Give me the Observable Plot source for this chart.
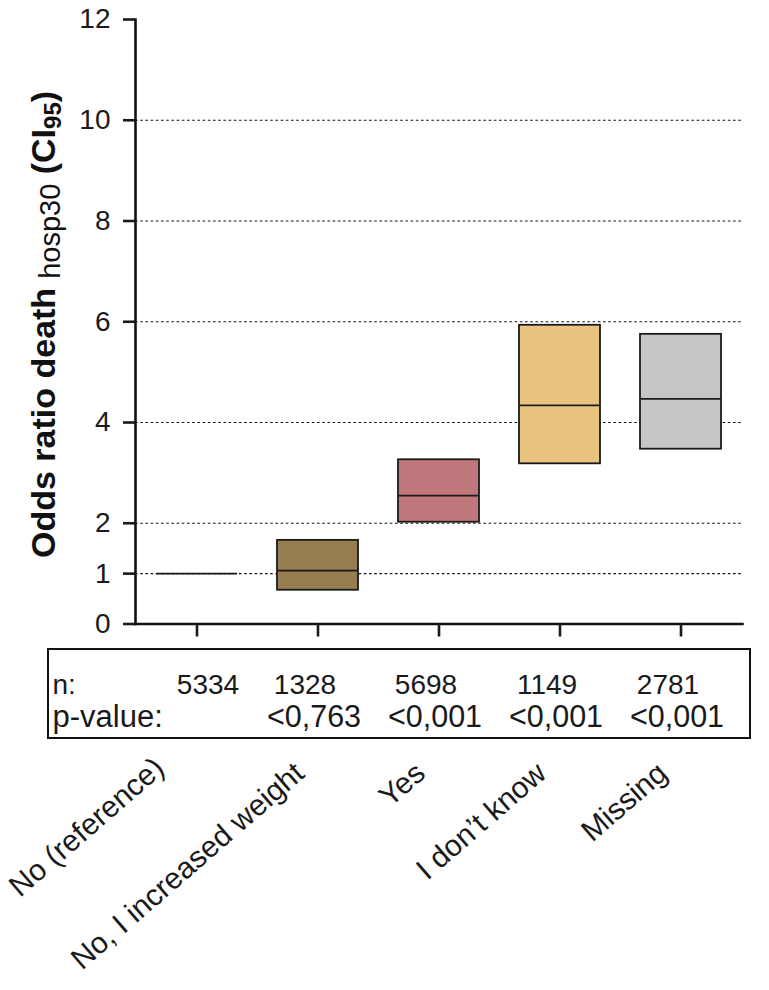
<!DOCTYPE html>
<html>
<head>
<meta charset="utf-8">
<script src="https://cdn.jsdelivr.net/npm/d3@7"></script>
<script src="https://cdn.jsdelivr.net/npm/@observablehq/plot@0.6"></script>
<style>
  html, body { margin: 0; padding: 0; background: #fff; }
  #wrap { position: relative; width: 769px; height: 990px; font-family: "Liberation Sans", Arial, sans-serif; }
  #wrap svg { position: absolute; left: 0; top: 0; }
  #tablebox { position: absolute; left: 47px; top: 648px; width: 700px; height: 87px; border: 2px solid #111; }
</style>
</head>
<body>
<div id="wrap"><div id="tablebox"></div></div>
<script>
// ---- data ----
const categories = ["No (reference)", "No, I increased weight", "Yes", "I don\u2019t know", "Missing"];
const oddsRatio  = [1.00, 1.06, 2.55, 4.34, 4.47];
const ciLower    = [null, 0.67, 2.02, 3.18, 3.47];
const ciUpper    = [null, 1.66, 3.26, 5.93, 5.75];
const colors     = ["#ffffff", "#977d52", "#c0777b", "#e8c480", "#c6c6c8"];
const nValues    = ["5334", "1328", "5698", "1149", "2781"];
const pValues    = ["", "<0,763", "<0,001", "<0,001", "<0,001"];
const yTicks     = [0, 1, 2, 4, 6, 8, 10, 12];
const gridValues = [1, 2, 4, 6, 8, 10];

const rows = categories.map((c, i) => ({
  cat: c, or: oddsRatio[i], lo: ciLower[i], hi: ciUpper[i], color: colors[i], n: nValues[i], p: pValues[i]
}));
const boxes = rows.filter(d => d.lo != null);
const refRow = rows.slice(0, 1);
const otherRows = rows.slice(1);

const FONT = "Liberation Sans, Arial, sans-serif";

const chart = Plot.plot({
  width: 769,
  height: 990,
  marginTop: 19,
  marginBottom: 366.5,
  marginLeft: 135,
  marginRight: 27,
  style: { fontFamily: FONT, color: "#1a1a1a", background: "transparent", overflow: "visible" },
  x: { type: "band", domain: categories, paddingInner: 0.333, paddingOuter: 0.1667, align: 0.5 },
  y: { domain: [0, 12] },
  marks: [
    Plot.ruleY(gridValues, { stroke: "#111", strokeWidth: 1.2, strokeDasharray: "2.6,2.6" }),
    Plot.barY(boxes, { x: "cat", y1: "lo", y2: "hi", fill: "color", stroke: "#1a1a1a", strokeWidth: 1.8 }),
    Plot.tickY(rows, { x: "cat", y: "or", stroke: "#1a1a1a", strokeWidth: 1.8 }),
    Plot.frame({ anchor: "left", stroke: "#111", strokeWidth: 2.6 }),
    Plot.frame({ anchor: "bottom", stroke: "#111", strokeWidth: 2.6 }),
    Plot.axisY({ ticks: yTicks, tickSize: 12, tickPadding: 13, strokeWidth: 2.6, fontSize: 28, label: null, tickFormat: d => String(d) }),
    Plot.axisX({ tickSize: 13, strokeWidth: 2.6, tickFormat: () => "", label: null }),
    // table rows
    Plot.text(["n:"], { frameAnchor: "bottom-left", dx: -83, dy: 70, text: d => d, textAnchor: "start", lineAnchor: "bottom", fontSize: 28 }),
    Plot.text(["p-value:"], { frameAnchor: "bottom-left", dx: -83, dy: 103, text: d => d, textAnchor: "start", lineAnchor: "bottom", fontSize: 31 }),
    Plot.text(refRow, { x: "cat", text: "n", frameAnchor: "bottom", dx: 11, dy: 70, lineAnchor: "bottom", fontSize: 28 }),
    Plot.text(otherRows, { x: "cat", text: "n", frameAnchor: "bottom", dx: -13, dy: 70, lineAnchor: "bottom", fontSize: 28 }),
    Plot.text(otherRows, { x: "cat", text: "p", frameAnchor: "bottom", dx: -4, dy: 103, lineAnchor: "bottom", fontSize: 30.5 }),
    // rotated category labels
    Plot.text(refRow, { x: "cat", text: "cat", frameAnchor: "bottom", rotate: -41, textAnchor: "end", lineAnchor: "bottom", dx: -31, dy: 147, fontSize: 30 }),
    Plot.text(otherRows, { x: "cat", text: "cat", frameAnchor: "bottom", rotate: -41, textAnchor: "end", lineAnchor: "bottom", dx: -12, dy: 152, fontSize: 30 })
  ]
});

document.getElementById("wrap").appendChild(chart);

// y-axis title with subscripts
const svg = d3.select(chart);
const t = svg.append("text")
  .attr("transform", "translate(55,558) rotate(-90)")
  .attr("text-anchor", "start")
  .attr("font-family", FONT)
  .attr("fill", "#111");
t.append("tspan").attr("font-weight", "bold").attr("font-size", 34).text("Odds ratio death");
t.append("tspan").attr("font-size", 29).attr("dy", 5).attr("dx", 9).text("hosp30");
t.append("tspan").attr("font-weight", "bold").attr("font-size", 34).attr("dy", -5).text(" (CI");
t.append("tspan").attr("font-weight", "bold").attr("font-size", 24).attr("dy", 6).text("95");
t.append("tspan").attr("font-weight", "bold").attr("font-size", 34).attr("dy", -6).text(")");
</script>
</body>
</html>
